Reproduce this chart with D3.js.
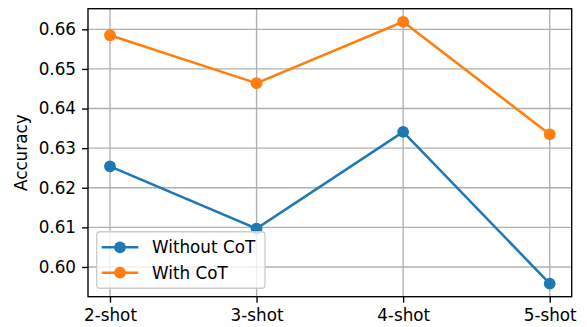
<!DOCTYPE html>
<html>
<head>
<meta charset="utf-8">
<script src="https://cdn.jsdelivr.net/npm/d3@7"></script>
<style>
  body { margin: 0; background: #fff; }
  svg { display: block; font-family: "DejaVu Sans", sans-serif; }
</style>
</head>
<body>
<svg id="chart" width="587" height="327"></svg>
<script>
// data
var shots = ["2-shot", "3-shot", "4-shot", "5-shot"];
var withoutCot = [0.6254, 0.6097, 0.6341, 0.5958];
var withCot = [0.6585, 0.6464, 0.6619, 0.6335];
var yTicks = [0.60, 0.61, 0.62, 0.63, 0.64, 0.65, 0.66];

var series = [
  {name: "Without CoT", values: withoutCot, color: "#1f77b4"},
  {name: "With CoT", values: withCot, color: "#ff7f0e"}
];

var svg = d3.select("#chart");
var box = {left: 88, top: 8.7, right: 571.7, bottom: 296.7};
var fs = 16.8;

var x = d3.scaleLinear().domain([-0.15, shots.length - 1 + 0.15]).range([box.left, box.right]);
var all = withoutCot.concat(withCot);
var lo = d3.min(all), hi = d3.max(all), pad = (hi - lo) * 0.05;
var y = d3.scaleLinear().domain([lo - pad, hi + pad]).range([box.bottom, box.top]);

// grid
var g = svg.append("g");
g.selectAll("line.gx").data(shots).enter().append("line")
  .attr("x1", function(d, i) { return x(i); })
  .attr("x2", function(d, i) { return x(i); })
  .attr("y1", box.top).attr("y2", box.bottom)
  .attr("stroke", "#b0b0b0").attr("stroke-width", 1.36);
g.selectAll("line.gy").data(yTicks).enter().append("line")
  .attr("x1", box.left).attr("x2", box.right)
  .attr("y1", function(d) { return y(d); })
  .attr("y2", function(d) { return y(d); })
  .attr("stroke", "#b0b0b0").attr("stroke-width", 1.36);

// lines + markers
var line = d3.line().x(function(d, i) { return x(i); }).y(function(d) { return y(d); });
series.forEach(function(s) {
  svg.append("path").datum(s.values)
    .attr("d", line).attr("fill", "none")
    .attr("stroke", s.color).attr("stroke-width", 2.55);
  svg.selectAll(null).data(s.values).enter().append("circle")
    .attr("cx", function(d, i) { return x(i); })
    .attr("cy", function(d) { return y(d); })
    .attr("r", 5.9).attr("fill", s.color);
});

// axes
var xAxis = d3.axisBottom(x).tickValues(d3.range(shots.length))
  .tickFormat(function(i) { return shots[i]; }).tickSize(6).tickPadding(6);
var yAxis = d3.axisLeft(y).tickValues(yTicks)
  .tickFormat(d3.format(".2f")).tickSize(6).tickPadding(6);

var ax = svg.append("g").attr("transform", "translate(0," + box.bottom + ")").call(xAxis);
var ay = svg.append("g").attr("transform", "translate(" + box.left + ",0)").call(yAxis);
[ax, ay].forEach(function(a) {
  a.select(".domain").remove();
  a.selectAll(".tick line").attr("stroke", "#000").attr("stroke-width", 1.36);
  a.selectAll(".tick text").attr("fill", "#000").style("font-size", fs + "px")
    .style("font-family", "DejaVu Sans");
});

svg.append("rect")
  .attr("x", box.left).attr("y", box.top)
  .attr("width", box.right - box.left).attr("height", box.bottom - box.top)
  .attr("fill", "none").attr("stroke", "#000").attr("stroke-width", 1.36);

svg.append("text")
  .attr("transform", "translate(27," + ((box.top + box.bottom) / 2) + ") rotate(-90)")
  .attr("text-anchor", "middle").style("font-size", fs + "px")
  .text("Accuracy");

// legend
var leg = svg.append("g");
leg.append("rect")
  .attr("x", 96.7).attr("y", 231.7).attr("width", 168.3).attr("height", 56.6)
  .attr("rx", 3.4).attr("fill", "#fff").attr("fill-opacity", 0.8)
  .attr("stroke", "#cccccc").attr("stroke-width", 1.36);
var rows = leg.selectAll("g.row").data(series).enter().append("g")
  .attr("transform", function(d, i) { return "translate(0," + (247.3 + i * 25.4) + ")"; });
rows.append("line").attr("x1", 101.7).attr("x2", 138.3)
  .attr("stroke", function(d) { return d.color; }).attr("stroke-width", 2.55);
rows.append("circle").attr("cx", 120).attr("r", 5.9)
  .attr("fill", function(d) { return d.color; });
rows.append("text").attr("x", 152).attr("dy", "0.36em")
  .style("font-size", fs + "px").text(function(d) { return d.name; });
</script>
</body>
</html>
